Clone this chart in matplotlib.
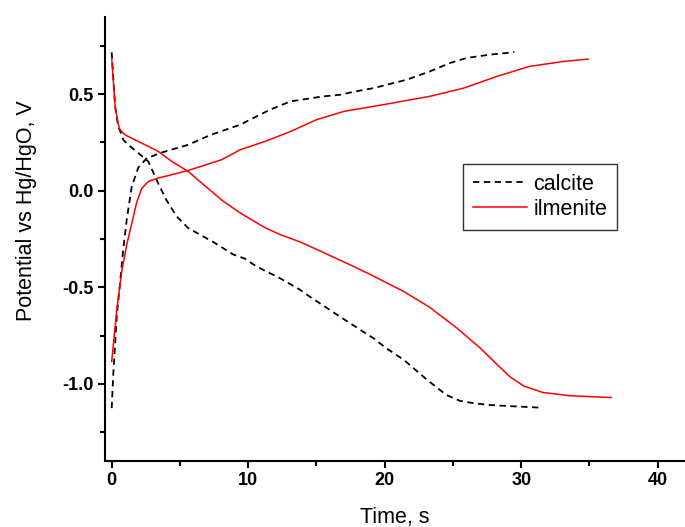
import matplotlib
matplotlib.use('Agg')
import matplotlib.pyplot as plt
from matplotlib.ticker import MultipleLocator

# calcite, discharge then charge
calDisT = [0, 0.25, 0.48, 0.73, 0.85, 1.1, 1.95, 2.68, 3.4, 4.0, 4.76, 5.6, 7.57, 8.9, 9.77,
           10.6, 12.3, 13.8, 14.5, 16.7, 18.4, 19.2, 20.1, 21.4, 23.1, 24.5, 25.5, 26.2, 27.5,
           28.7, 31.25]
calDisV = [0.717, 0.437, 0.333, 0.29, 0.265, 0.245, 0.195, 0.152, 0.04, -0.047, -0.133, -0.193,
           -0.271, -0.33, -0.352, -0.392, -0.452, -0.513, -0.548, -0.651, -0.729, -0.765, -0.815,
           -0.876, -0.979, -1.057, -1.088, -1.097, -1.109, -1.114, -1.123]
calChT = [0, 0.12, 0.37, 0.61, 0.85, 1.1, 1.47, 1.95, 2.56, 3.66, 5.6, 7.2, 9.4, 11.6, 13.1,
          15.5, 16.7, 17.9, 19.2, 21.6, 23.3, 24.8, 26.0, 27.7, 29.5]
calChV = [-1.126, -0.945, -0.651, -0.478, -0.30, -0.15, 0.022, 0.12, 0.168, 0.198, 0.238, 0.288,
          0.342, 0.42, 0.463, 0.489, 0.497, 0.515, 0.532, 0.575, 0.618, 0.662, 0.688, 0.705, 0.718]

# ilmenite, discharge then charge
ilmDisT = [0, 0.25, 0.48, 0.61, 0.97, 1.7, 2.68, 3.4, 4.4, 5.6, 6.84, 8.06, 9.3, 11.2, 12.3,
           13.8, 14.8, 17.2, 18.9, 21.4, 23.3, 25.3, 27.0, 28.2, 29.2, 30.2, 31.6, 33.6, 36.6]
ilmDisV = [0.688, 0.437, 0.345, 0.316, 0.29, 0.264, 0.23, 0.204, 0.152, 0.1, 0.025, -0.048,
           -0.11, -0.19, -0.226, -0.265, -0.297, -0.375, -0.432, -0.522, -0.604, -0.712, -0.815,
           -0.898, -0.965, -1.012, -1.045, -1.062, -1.071]
ilmChT = [0, 0.37, 0.73, 1.1, 1.47, 1.83, 2.2, 2.68, 3.4, 4.0, 5.6, 8.06, 9.4, 11.2, 13.1, 15.0,
          17.0, 19.9, 23.3, 25.8, 28.2, 30.6, 33.1, 34.9]
ilmChV = [-0.884, -0.617, -0.42, -0.28, -0.17, -0.06, 0.012, 0.048, 0.066, 0.076, 0.105, 0.161,
          0.212, 0.255, 0.307, 0.368, 0.411, 0.446, 0.489, 0.532, 0.592, 0.644, 0.67, 0.682]

plt.rcParams['font.family'] = ['Liberation Sans', 'DejaVu Sans']
plt.rcParams['axes.unicode_minus'] = False

fig = plt.figure(figsize=(6.85, 5.27), dpi=100)
ax = fig.add_axes([0.1533, 0.1252, 0.8467, 0.8425])

dash = dict(color='black', lw=1.3, linestyle=(0, (3.5, 2.5)))
ax.plot(calDisT, calDisV, label='calcite', **dash)
ax.plot(calChT, calChV, **dash)
ax.plot(ilmDisT, ilmDisV, color='red', lw=1.1, label='ilmenite')
ax.plot(ilmChT, ilmChV, color='red', lw=1.1)

ax.set_xlim(-0.49, 42.0)
ax.set_ylim(-1.40, 0.90)

for s in ['top', 'right']:
    ax.spines[s].set_visible(False)
for s in ['left', 'bottom']:
    ax.spines[s].set_linewidth(1.5)

ax.xaxis.set_major_locator(MultipleLocator(10))
ax.xaxis.set_minor_locator(MultipleLocator(5))
ax.yaxis.set_major_locator(MultipleLocator(0.5))
ax.yaxis.set_minor_locator(MultipleLocator(0.25))
ax.tick_params(which='major', direction='out', length=5, width=1.5, labelsize=13, pad=3)
ax.tick_params(which='minor', direction='out', length=3.5, width=1.5)
for lbl in ax.get_xticklabels() + ax.get_yticklabels():
    lbl.set_fontweight('bold')

ax.set_xlabel('Time, s', fontsize=15.5, labelpad=13)
ax.set_ylabel('Potential vs Hg/HgO, V', fontsize=15.5)
ax.yaxis.set_label_coords(-0.117, 0.563)

leg = ax.legend(loc='upper left', bbox_to_anchor=(0.618, 0.669), fontsize=15.5, frameon=True,
                fancybox=False, edgecolor='black', handlelength=2.5, handletextpad=0.3,
                borderpad=0.45, labelspacing=0.2, borderaxespad=0)
leg.get_frame().set_linewidth(1.0)

plt.savefig('out.png', dpi=100)
plt.close()
